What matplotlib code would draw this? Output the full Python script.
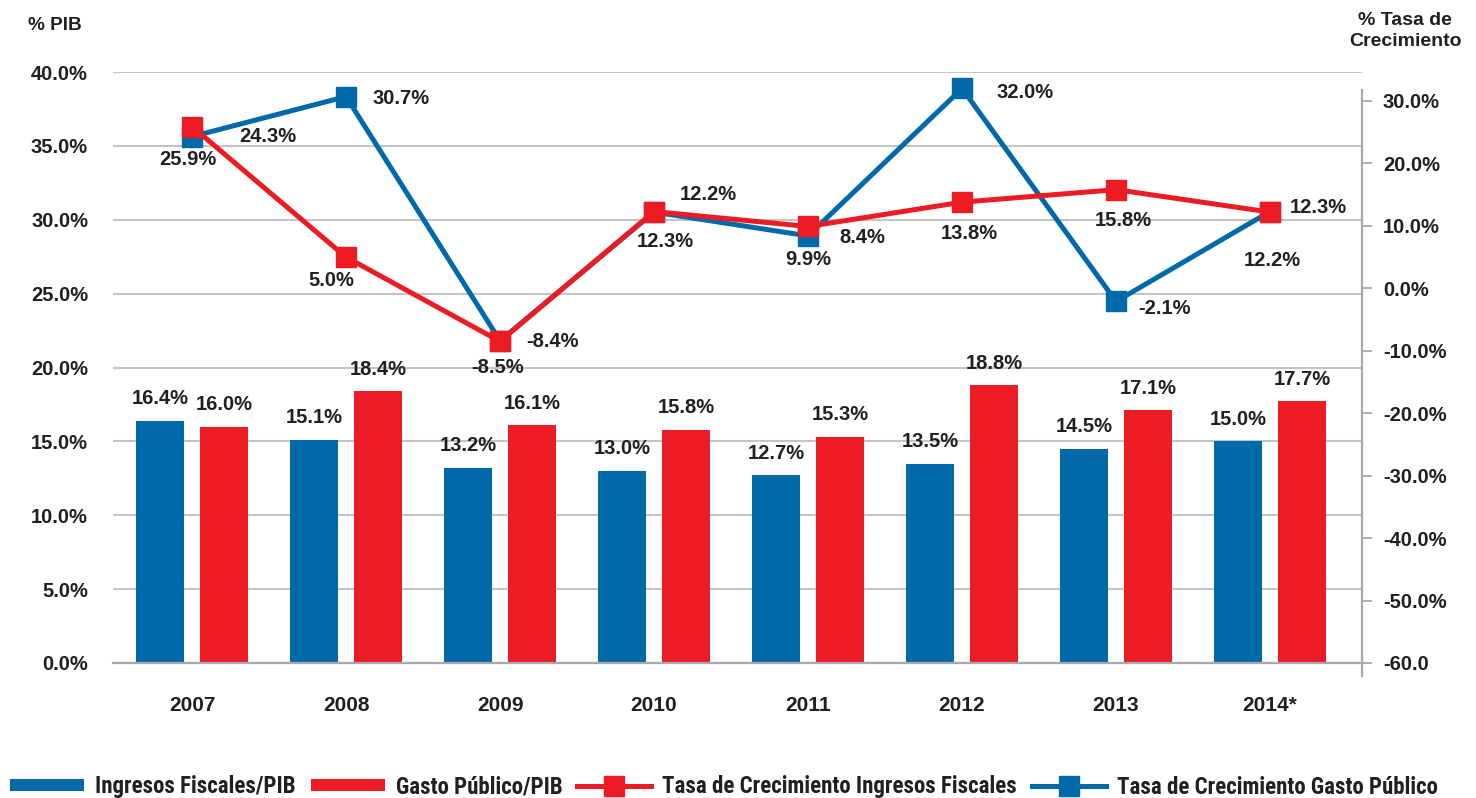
import numpy as np
import matplotlib
matplotlib.use('Agg')
import matplotlib.pyplot as plt
from matplotlib import font_manager
from matplotlib.font_manager import FontProperties
from matplotlib.textpath import TextPath
from matplotlib.lines import Line2D
from matplotlib.patches import Patch

years = ['2007', '2008', '2009', '2010', '2011', '2012', '2013', '2014*']
ingresos_pib = [16.4, 15.1, 13.2, 13.0, 12.7, 13.5, 14.5, 15.0]
gasto_pib = [16.0, 18.4, 16.1, 15.8, 15.3, 18.8, 17.1, 17.7]
tasa_ingresos = [25.9, 5.0, -8.5, 12.3, 9.9, 13.8, 15.8, 12.2]
tasa_gasto = [24.3, 30.7, -8.4, 12.2, 8.4, 32.0, -2.1, 12.3]

# label offsets in pixels (dx, dy) from each marker
off_ingresos = [(-4, -33), (-15, -23), (-2, -26), (11, -30), (0, -33), (7, -31), (7, -31), (2, -48)]
off_gasto = [(76, 0), (55, -2), (52, -1), (54, 18), (54, -2), (63, -4), (48, -7), (48, 4)]

BLUE = '#0069aa'
RED = '#ed1c24'
TXT = '#231f20'
GRID = '#c4c5c7'
AXC = '#a7a9ac'

plt.rcParams['font.family'] = ['Liberation Sans', 'DejaVu Sans']
plt.rcParams['font.weight'] = 'bold'

# legend in the original uses a condensed bold sans; take a known one if installed
leg_fp = FontProperties(family='Liberation Sans', weight='bold')
wanted = ['liberationsansnarrow-bold.', 'robotocondensed-bold.', 'notosans-condensedbold.',
          'opensans-condensedbold.', 'opensanscondensed-bold.']
files = {f.fname.lower().split('/')[-1]: f.fname for f in font_manager.fontManager.ttflist}
for key in wanted:
    hit = [v for k, v in files.items() if k.startswith(key)]
    if hit:
        leg_fp = FontProperties(fname=hit[0])
        break
# size it so the first entry is about 200 px wide like the reference
w10 = TextPath((0, 0), 'Ingresos Fiscales/PIB', size=10, prop=leg_fp).get_extents().width * 100 / 72
leg_size = min(19, 10 * 198 / w10)
leg_fp.set_size(leg_size)

fig = plt.figure(figsize=(14.76, 7.98), dpi=100)
ax = fig.add_axes([113/1476, 135/798, 1249/1476, 591/798])
ax2 = ax.twinx()

x = np.arange(len(years))
w = 0.312
d = 0.208

ax.bar(x - d, ingresos_pib, w, color=BLUE, zorder=3)
ax.bar(x + d, gasto_pib, w, color=RED, zorder=3)
for xi, v in zip(x, ingresos_pib):
    ax.annotate(f'{v:.1f}%', (xi - d, v), xytext=(0, 22), textcoords='offset pixels',
                ha='center', va='center', fontsize=14.5, color=TXT, fontweight='bold')
for xi, v in zip(x, gasto_pib):
    ax.annotate(f'{v:.1f}%', (xi + d, v), xytext=(0, 22), textcoords='offset pixels',
                ha='center', va='center', fontsize=14.5, color=TXT, fontweight='bold')

ax.set_xlim(-0.513, 7.597)
ax.set_ylim(0, 40)
ax.set_yticks(np.arange(0, 41, 5))
ax.set_yticklabels([f'{t:.1f}%' for t in np.arange(0, 41, 5)])
ax.set_xticks(x)
ax.set_xticklabels(years)
ax.tick_params(axis='y', length=0, pad=18, labelsize=14.5, labelcolor=TXT)
ax.tick_params(axis='x', length=0, pad=24, labelsize=15, labelcolor=TXT)
ax.yaxis.grid(True, color=GRID, linewidth=1.5, zorder=0)
ax.set_axisbelow(True)
for s in ['top', 'left', 'right']:
    ax.spines[s].set_visible(False)
ax.spines['bottom'].set_color(AXC)
ax.spines['bottom'].set_linewidth(1.6)
ax.spines['bottom'].set_zorder(4)

# growth lines on right axis
ax2.plot(x, tasa_gasto, color=BLUE, lw=3.6, marker='s', ms=15, zorder=3)
ax2.plot(x, tasa_ingresos, color=RED, lw=3.6, marker='s', ms=15, zorder=4)
for xi, v, o in zip(x, tasa_ingresos, off_ingresos):
    ax2.annotate(f'{v:.1f}%', (xi, v), xytext=o, textcoords='offset pixels',
                 ha='center', va='center', fontsize=14.5, color=TXT, fontweight='bold')
for xi, v, o in zip(x, tasa_gasto, off_gasto):
    ax2.annotate(f'{v:.1f}%', (xi, v), xytext=o, textcoords='offset pixels',
                 ha='center', va='center', fontsize=14.5, color=TXT, fontweight='bold')

ax2.set_ylim(-60, 34.64)
rticks = np.arange(-60, 31, 10)
ax2.set_yticks(rticks)
ax2.set_yticklabels(['-60.0'] + [f'{t:.1f}%' for t in rticks[1:]])
ax2.tick_params(axis='y', length=7, width=1.3, color=AXC, pad=8, labelsize=14.5, labelcolor=TXT)
for s in ['top', 'left', 'bottom']:
    ax2.spines[s].set_visible(False)
ax2.spines['right'].set_color(AXC)
ax2.spines['right'].set_linewidth(1.6)
ax2.spines['right'].set_bounds(-62.1, 31.8)
ax2.spines['right'].set_clip_on(False)

fig.text(28/1476, 1 - 25/798, '% PIB', ha='left', va='center', fontsize=13.7, color=TXT)
fig.text(1405/1476, 1 - 12/798, '% Tasa de\nCrecimiento', ha='center', va='top',
         fontsize=14, color=TXT, linespacing=1.3)

handles = [
    Patch(facecolor=BLUE, linewidth=0, label='Ingresos Fiscales/PIB'),
    Patch(facecolor=RED, linewidth=0, label='Gasto Público/PIB'),
    Line2D([], [], color=RED, lw=3.6, marker='s', ms=15, label='Tasa de Crecimiento Ingresos Fiscales'),
    Line2D([], [], color=BLUE, lw=3.6, marker='s', ms=15, label='Tasa de Crecimiento Gasto Público'),
]
fs_px = leg_size * 100 / 72
fig.legend(handles=handles, loc='center left', bbox_to_anchor=(10/1476, 11/798), ncol=4,
           frameon=False, borderpad=0, borderaxespad=0, handlelength=74 / fs_px,
           handleheight=10 / fs_px, handletextpad=11 / fs_px, columnspacing=15 / fs_px,
           prop=leg_fp, labelcolor=TXT)

fig.savefig('out.png', dpi=100)
